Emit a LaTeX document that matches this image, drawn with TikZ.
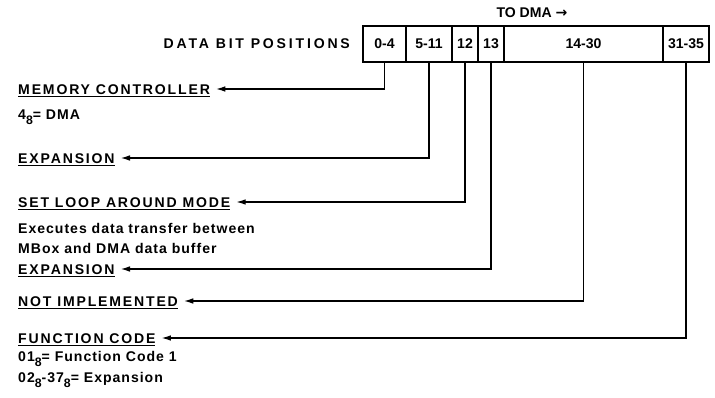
\documentclass[tikz,border=0pt]{standalone}
\usepackage{fontspec}
\setmainfont{Liberation Sans}
\newfontfamily\widefont[LetterSpace=13]{Liberation Sans}
\newfontfamily\notefont[LetterSpace=7]{Liberation Sans}
\newfontfamily\titlefont[LetterSpace=20]{Liberation Sans}
\newfontfamily\symfont{DejaVu Sans}
\usetikzlibrary{arrows.meta}
\newcommand{\octal}{\raisebox{-4pt}{\fontsize{10.5}{10}\selectfont 8}}

\begin{document}
\begin{tikzpicture}[
  x=0.03cm, y=-0.03cm,
  every node/.style={font=\fontsize{12}{14}\selectfont\bfseries},
  cell/.style={draw, line width=1.4pt, minimum height=36*0.03cm, inner sep=0pt},
  lbl/.style={anchor=west, inner xsep=0pt, inner ysep=0pt, text height=8.6pt, text depth=0pt,
              font=\fontsize{12}{14}\widefont\bfseries},
  note/.style={anchor=west, inner sep=0pt, font=\fontsize{12}{16.5}\notefont\bfseries},
  conn/.style={line width=1.1pt, -{Latex[length=2.8mm,width=1.7mm]}, shorten >=5pt}
]
\useasboundingbox (0,0) rectangle (715,398);

% word layout
\node[cell, minimum width=43*0.03cm]  (c04)   at (384.5,44) {0-4};
\node[cell, minimum width=46*0.03cm]  (c511)  at (429,44)   {5-11};
\node[cell, minimum width=26*0.03cm]  (c12)   at (465,44)   {12};
\node[cell, minimum width=26*0.03cm]  (c13)   at (491,44)   {13};
\node[cell, minimum width=159*0.03cm] (c1430) at (583.5,44) {14-30};
\node[cell, minimum width=46*0.03cm]  (c3135) at (686,44)   {31-35};
\node[anchor=east, font=\fontsize{12}{14}\titlefont\bfseries] (bitpos) at (354,44) {DATA BIT POSITIONS};
\node (todma) at (532,13) {TO DMA {\symfont\bfseries →}};

% field labels
\node[lbl] (memctl) at (18,89)  {\underline{MEMORY CONTROLLER}};
\node[note] (memnote) at (18,117) {4\octal= DMA};
\node[lbl] (expa)   at (18,158) {\underline{EXPANSION}};
\node[lbl] (loop)   at (18,202) {\underline{SET LOOP AROUND MODE}};
\node[note, align=left] (loopnote) at (18,238.5)
  {Executes data transfer between\\MBox and DMA data buffer};
\node[lbl] (expb)   at (18,269) {\underline{EXPANSION}};
\node[lbl] (notimp) at (18,301) {\underline{NOT IMPLEMENTED}};
\node[lbl] (func)   at (18,338) {\underline{FUNCTION CODE}};
\node[note] (funcnote1) at (18,359) {01\octal= Function Code 1};
\node[note] (funcnote2) at (18,380) {02\octal-37\octal= Expansion};

% connectors
\draw[conn] (c04.south)   |- (memctl.east);
\draw[conn] (c511.south)  |- (expa.east);
\draw[conn] (c12.south)   |- (loop.east);
\draw[conn] (c13.south)   |- (expb.east);
\draw[conn] (c1430.south) |- (notimp.east);
\draw[conn] (c3135.south) |- (func.east);
\end{tikzpicture}
\end{document}
